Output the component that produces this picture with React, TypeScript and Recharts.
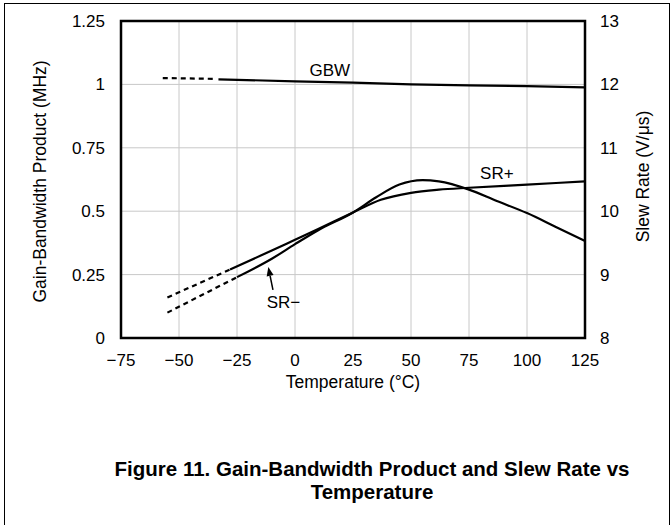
import React from "react"
import {
  LineChart,
  Line,
  XAxis,
  YAxis,
  CartesianGrid,
  ReferenceArea,
  ReferenceDot,
  ReferenceLine,
  Label,
} from "recharts"

// temperature ticks and axis ticks
const tempTicks = [-75, -50, -25, 0, 25, 50, 75, 100, 125]
const gbwTicks = [0, 0.25, 0.5, 0.75, 1, 1.25]
const srTicks = [8, 9, 10, 11, 12, 13]

// GBW (MHz), left axis
const gbwDashT = [-57, -35]
const gbwDashV = [1.025, 1.022]
const gbwT = [-33, 0, 25, 50, 75, 100, 125]
const gbwV = [1.02, 1.012, 1.007, 1.0, 0.996, 0.993, 0.988]

// SR+ (V/us), right axis
const srPlusDashT = [-55, -28]
const srPlusDashV = [8.64, 9.08]
const srPlusT = [-28, -10, 0, 10, 25, 37, 50, 62, 75, 100, 125]
const srPlusV = [9.08, 9.38, 9.55, 9.72, 9.98, 10.18, 10.29, 10.34, 10.37, 10.42, 10.47]

// SR- (V/us), right axis
const srMinusDashT = [-55, -25]
const srMinusDashV = [8.4, 8.96]
const srMinusT = [-25, -10, 0, 10, 25, 35, 45, 55, 62, 75, 87, 100, 112, 125]
const srMinusV = [8.96, 9.25, 9.48, 9.7, 9.98, 10.22, 10.42, 10.49, 10.47, 10.34, 10.16, 9.97, 9.76, 9.53]

const zip = (t: number[], v: number[]) => t.map((x, i) => ({ t: x, v: v[i] }))

const font = "'Liberation Sans', Arial, sans-serif"
const tickStyle = { fontSize: 17, fill: "#000", fontFamily: font }

const fmtTemp = (v: number) => (v < 0 ? "\u2212" + Math.abs(v) : String(v))

const textShape = (txt: string) => (p: any) => (
  <text x={p.cx} y={p.cy} textAnchor="middle" dominantBaseline="central" fontSize={17} fontFamily={font} fill="#000">
    {txt}
  </text>
)

const arrowShape = (p: any) => {
  const { x1, y1, x2, y2 } = p
  const ang = Math.atan2(y2 - y1, x2 - x1)
  const L = 9
  const W = 3.5
  const bx = x2 - L * Math.cos(ang)
  const by = y2 - L * Math.sin(ang)
  const nx = -Math.sin(ang) * W
  const ny = Math.cos(ang) * W
  return (
    <g>
      <line x1={x1} y1={y1} x2={bx} y2={by} stroke="#000" strokeWidth={1.5} />
      <polygon points={`${x2},${y2} ${bx + nx},${by + ny} ${bx - nx},${by - ny}`} fill="#000" />
    </g>
  )
}

export default function App() {
  return (
    <div style={{ position: "absolute", left: 0, top: 0, width: 671, height: 525, background: "#fff", overflow: "hidden" }}>
      <div
        style={{
          position: "absolute",
          left: 4,
          top: 3,
          width: 664,
          height: 540,
          borderTop: "1.5px solid #000",
          borderLeft: "1.5px solid #000",
          borderRight: "1.5px solid #000",
        }}
      />
      <LineChart width={671} height={525} margin={{ top: 21, right: 0, bottom: 0, left: 0 }} style={{ position: "absolute", left: 0, top: 0 }}>
        <CartesianGrid stroke="#c8c8c8" strokeWidth={1} yAxisId="left" />
        <XAxis
          dataKey="t"
          type="number"
          domain={[-75, 125]}
          ticks={tempTicks}
          tickFormatter={fmtTemp}
          height={187}
          tickLine={false}
          axisLine={false}
          tickMargin={10}
          tick={tickStyle}
          allowDataOverflow
        >
          <Label value="Temperature (°C)" position="insideTop" offset={38} fontSize={17.5} fill="#000" fontFamily={font} />
        </XAxis>
        <YAxis
          yAxisId="left"
          domain={[0, 1.25]}
          ticks={gbwTicks}
          width={121}
          tickLine={false}
          axisLine={false}
          tickMargin={10}
          tick={tickStyle}
          allowDataOverflow
        >
          <Label
            content={(p: any) => {
              const vb = p.viewBox
              const cy = vb.y + vb.height / 2 + 2
              return (
                <text transform={`translate(40, ${cy}) rotate(-90)`} textAnchor="middle" dominantBaseline="central" fontSize={17.5} fill="#000" fontFamily={font}>
                  Gain-Bandwidth Product (MHz)
                </text>
              )
            }}
          />
        </YAxis>
        <YAxis
          yAxisId="right"
          orientation="right"
          domain={[8, 13]}
          ticks={srTicks}
          width={86}
          tickLine={false}
          axisLine={false}
          tickMargin={9}
          tick={tickStyle}
          allowDataOverflow
        >
          <Label
            content={(p: any) => {
              const vb = p.viewBox
              const cy = vb.y + vb.height / 2 - 3
              return (
                <text transform={`translate(643, ${cy}) rotate(-90)`} textAnchor="middle" dominantBaseline="central" fontSize={17.5} fill="#000" fontFamily={font}>
                  Slew Rate (V/μs)
                </text>
              )
            }}
          />
        </YAxis>

        <Line yAxisId="left" data={zip(gbwDashT, gbwDashV)} dataKey="v" stroke="#000" strokeWidth={2.2} strokeDasharray="5 4" dot={false} isAnimationActive={false} />
        <Line yAxisId="left" data={zip(gbwT, gbwV)} dataKey="v" stroke="#000" strokeWidth={2.2} dot={false} isAnimationActive={false} />
        <Line yAxisId="right" data={zip(srPlusDashT, srPlusDashV)} dataKey="v" stroke="#000" strokeWidth={2.2} strokeDasharray="5 4" dot={false} isAnimationActive={false} />
        <Line yAxisId="right" data={zip(srPlusT, srPlusV)} dataKey="v" type="monotone" stroke="#000" strokeWidth={2.2} dot={false} isAnimationActive={false} />
        <Line yAxisId="right" data={zip(srMinusDashT, srMinusDashV)} dataKey="v" stroke="#000" strokeWidth={2.2} strokeDasharray="5 4" dot={false} isAnimationActive={false} />
        <Line yAxisId="right" data={zip(srMinusT, srMinusV)} dataKey="v" type="monotone" stroke="#000" strokeWidth={2.2} dot={false} isAnimationActive={false} />

        <ReferenceArea yAxisId="left" x1={-75} x2={125} y1={0} y2={1.25} fill="none" stroke="#000" strokeWidth={2.5} />

        <ReferenceDot yAxisId="left" x={15} y={1.055} r={0} shape={textShape("GBW")} />
        <ReferenceDot yAxisId="right" x={87} y={10.6} r={0} shape={textShape("SR+")} />
        <ReferenceDot yAxisId="right" x={-5} y={8.56} r={0} shape={textShape("SR\u2212")} />
        <ReferenceLine
          yAxisId="right"
          segment={[
            { x: -9.5, y: 8.76 },
            { x: -11.5, y: 9.12 },
          ]}
          shape={arrowShape}
        />
      </LineChart>
      <div
        style={{
          position: "absolute",
          left: 0,
          width: 744,
          top: 457,
          textAlign: "center",
          fontFamily: font,
          fontWeight: "bold",
          fontSize: 20.5,
          lineHeight: "23px",
          color: "#000",
        }}
      >
        Figure 11. Gain-Bandwidth Product and Slew Rate vs
        <br />
        Temperature
      </div>
    </div>
  )
}
